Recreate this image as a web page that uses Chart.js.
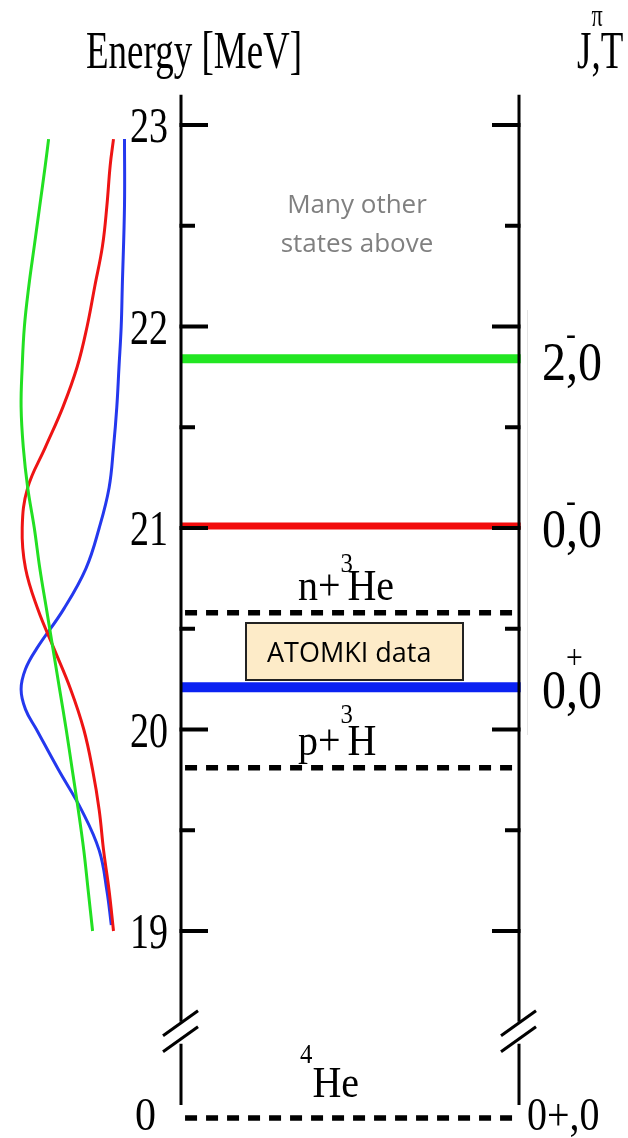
<!DOCTYPE html>
<html>
<head>
<meta charset="utf-8">
<title>4He levels</title>
<script src="https://cdn.jsdelivr.net/npm/chart.js@4.4.1/dist/chart.umd.min.js"></script>
<style>
  html, body { margin: 0; padding: 0; background: #fff; }
  canvas { display: block; }
</style>
</head>
<body>
<canvas id="levelChart" width="628" height="1138"></canvas>
<script>
// energy axis ticks (MeV)
const energyTicks = [19, 19.5, 20, 20.5, 21, 21.5, 22, 22.5, 23];
const energyTickLabels = ['19', '', '20', '', '21', '', '22', '', '23'];
const groundTickLabel = '0';

// excited states of 4He
const levelEnergies = [21.84, 21.01, 20.21];
const levelSpin = ['2', '0', '0'];
const levelParity = ['-', '-', '+'];
const levelIsospin = ['0', '0', '0'];

// thresholds + ground state (MeV)
const thresholdEnergies = [20.58, 19.81, 0];
const thresholdNames = [['n+', '3', 'He'], ['p+', '3', 'H'], ['', '4', 'He']];
const groundSpin = '0+,0';

// resonance profiles on the left (energy, relative yield)
const greenE = [22.93, 22.8, 22.6, 22.4, 22.2, 22.0, 21.8, 21.6, 21.4, 21.2, 21.0, 20.8, 20.6, 20.4, 20.2, 20.0, 19.8, 19.6, 19.4, 19.2, 19.0];
const greenY = [0.74, 0.77, 0.82, 0.87, 0.92, 0.96, 0.98, 0.99, 0.97, 0.93, 0.87, 0.82, 0.76, 0.70, 0.64, 0.58, 0.525, 0.47, 0.42, 0.38, 0.34];
const redE = [22.93, 22.8, 22.6, 22.4, 22.2, 22.0, 21.8, 21.6, 21.4, 21.2, 21.0, 20.8, 20.6, 20.4, 20.2, 20.0, 19.8, 19.6, 19.4, 19.2, 19.0];
const redY = [0.15, 0.18, 0.21, 0.25, 0.32, 0.39, 0.48, 0.61, 0.77, 0.93, 0.98, 0.95, 0.84, 0.69, 0.54, 0.42, 0.34, 0.28, 0.24, 0.19, 0.15];
const blueE = [22.93, 22.6, 22.2, 22.0, 21.8, 21.6, 21.4, 21.2, 21.0, 20.8, 20.6, 20.4, 20.3, 20.2, 20.1, 20.0, 19.8, 19.6, 19.4, 19.2, 19.03];
const blueY = [0.05, 0.05, 0.07, 0.08, 0.10, 0.12, 0.15, 0.19, 0.28, 0.40, 0.60, 0.85, 0.95, 0.99, 0.95, 0.85, 0.65, 0.44, 0.28, 0.21, 0.17];

// broken axis: the ground state is drawn just below the break
const groundAxisPos = 18.072;
const axisTopE = 23.15;
const breakE = 18.5;
function axisE(e) { return e < breakE ? groundAxisPos + e : e; }

// layout of the canvas (px)
const W = 628, H = 1138;
const ePx23 = 125, pxPerMeV = 201.5;
const leftAxisPx = 181, rightAxisPx = 519;
const yieldZeroPx = 130, yieldPxPerUnit = 110;

const levelColors = ['#22e622', '#f20c0c', '#0b22f2'];
const levelWidths = [9, 7, 10];

function pairs(es, ys) { return es.map((e, i) => ({ x: ys[i], y: e })); }

const datasets = [];
levelEnergies.forEach((e, i) => {
  datasets.push({
    xAxisID: 'x', data: [{ x: 0, y: e }, { x: 1.005, y: e }],
    borderColor: levelColors[i], borderWidth: levelWidths[i], borderCapStyle: 'butt',
    pointRadius: 0, tension: 0
  });
});
thresholdEnergies.forEach(e => {
  datasets.push({
    xAxisID: 'x', data: [{ x: 0.012, y: axisE(e) }, { x: 0.995, y: axisE(e) }],
    borderColor: '#000', borderWidth: 5.5, borderDash: [12, 9], borderCapStyle: 'butt',
    pointRadius: 0, tension: 0
  });
});
[[greenE, greenY, '#22e022'], [redE, redY, '#ee1414'], [blueE, blueY, '#2438ee']].forEach(c => {
  datasets.push({
    xAxisID: 'yield', data: pairs(c[0], c[1]),
    borderColor: c[2], borderWidth: 3, pointRadius: 0, tension: 0.4
  });
});

// serif text with the vertical stretch of the original figure
function drawParts(ctx, parts, x, y, size, stretch, align) {
  const widths = parts.map(p => {
    ctx.font = (size * (p.scale || 1)) + 'px "Liberation Serif"';
    return ctx.measureText(p.t).width;
  });
  let total = 0;
  parts.forEach((p, i) => { total += i === parts.length - 1 ? widths[i] : widths[i] * (p.adv === undefined ? 1 : p.adv); });
  let cx = align === 'right' ? x - total : align === 'center' ? x - total / 2 : x;
  ctx.textAlign = 'left';
  ctx.textBaseline = 'alphabetic';
  parts.forEach((p, i) => {
    ctx.save();
    ctx.font = (size * (p.scale || 1)) + 'px "Liberation Serif"';
    ctx.translate(cx, y - (p.dy || 0));
    ctx.scale(1, stretch);
    ctx.fillText(p.t, 0, 0);
    ctx.restore();
    cx += widths[i] * (p.adv === undefined ? 1 : p.adv);
  });
}

const schemePlugin = {
  id: 'scheme',
  afterDatasetsDraw(chart) {
    const ctx = chart.ctx;
    const ys = chart.scales.y;
    const yTop = ys.getPixelForValue(axisTopE);
    const yBreak = ys.getPixelForValue(breakE);
    const yEnd = ys.getPixelForValue(groundAxisPos) - 13;
    ctx.save();
    ctx.fillStyle = '#000';

    // faint edge of pasted panel
    ctx.strokeStyle = '#e4e4e4';
    ctx.lineWidth = 1;
    ctx.beginPath(); ctx.moveTo(527.5, 310); ctx.lineTo(527.5, 735); ctx.stroke();
    ctx.strokeStyle = '#000';

    // axis lines with break
    ctx.lineWidth = 3;
    [leftAxisPx, rightAxisPx].forEach(ax => {
      ctx.beginPath();
      ctx.moveTo(ax, yTop); ctx.lineTo(ax, yBreak - 10);
      ctx.moveTo(ax, yBreak + 12); ctx.lineTo(ax, yEnd);
      ctx.stroke();
      [-8, 8].forEach(off => {
        ctx.beginPath();
        ctx.moveTo(ax - 18, yBreak + off + 12);
        ctx.lineTo(ax + 17, yBreak + off - 13);
        ctx.stroke();
      });
    });

    // inward ticks
    ctx.lineWidth = 4;
    energyTicks.forEach((e, i) => {
      const py = ys.getPixelForValue(e);
      const len = energyTickLabels[i] ? 27 : 14;
      ctx.beginPath();
      ctx.moveTo(leftAxisPx - 1.5, py); ctx.lineTo(leftAxisPx + len, py);
      ctx.moveTo(rightAxisPx + 1.5, py); ctx.lineTo(rightAxisPx - len, py);
      ctx.stroke();
      if (energyTickLabels[i]) {
        drawParts(ctx, [{ t: energyTickLabels[i] }], 168, py + 17, 38, 1.33, 'right');
      }
    });
    const gy = ys.getPixelForValue(groundAxisPos);
    drawParts(ctx, [{ t: groundTickLabel }], 156, gy + 12, 42, 1.12, 'right');

    // headers
    drawParts(ctx, [{ t: 'Energy [MeV]' }], 86, 68, 37, 1.4, 'left');
    drawParts(ctx, [{ t: 'J' }, { t: '\u03c0', scale: 0.6, dy: 42, adv: 0 }, { t: ',T' }], 577, 68, 37, 1.4, 'left');

    // spin-parity labels
    levelEnergies.forEach((e, i) => {
      const py = ys.getPixelForValue(e);
      drawParts(ctx, [
        { t: levelSpin[i] },
        { t: levelParity[i], scale: 0.62, dy: levelParity[i] === '+' ? 40 : 35, adv: 0 },
        { t: ',' + levelIsospin[i] }
      ], 542, py + 21, 48, 1.15, 'left');
    });
    drawParts(ctx, [{ t: groundSpin }], 527, gy + 12, 40, 1.15, 'left');

    // threshold labels
    const nameBase = [600, 755, 1097];
    const supDy = [28, 32, 34];
    thresholdNames.forEach((n, i) => {
      const parts = [];
      if (n[0]) parts.push({ t: n[0] });
      parts.push({ t: n[1], scale: 0.62, dy: supDy[i], adv: i === 2 ? 1 : 0.55 });
      parts.push({ t: n[2] });
      drawParts(ctx, parts, i === 2 ? 300 : 298, nameBase[i], 40, 1.13, 'left');
    });

    // annotations
    ctx.fillStyle = '#808080';
    ctx.font = '26px "Open Sans"';
    ctx.textAlign = 'center';
    ctx.textBaseline = 'alphabetic';
    ctx.fillText('Many other', 357, 213);
    ctx.fillText('states above', 357, 252);

    ctx.fillStyle = '#fdebc8';
    ctx.fillRect(246, 623, 217, 57);
    ctx.strokeStyle = '#222';
    ctx.lineWidth = 2;
    ctx.strokeRect(246, 623, 217, 57);
    ctx.fillStyle = '#000';
    ctx.font = '27px "Open Sans"';
    ctx.textAlign = 'left';
    ctx.fillText('ATOMKI data', 267, 662);
    ctx.restore();
  }
};

const xRange = W / (rightAxisPx - leftAxisPx);
const xMin = -leftAxisPx / (rightAxisPx - leftAxisPx);
const yRange = W / yieldPxPerUnit;
const yieldMax = yieldZeroPx / yieldPxPerUnit;
const eRange = H / pxPerMeV;
const eMax = 23 + ePx23 / pxPerMeV;

new Chart(document.getElementById('levelChart'), {
  type: 'line',
  data: { datasets: datasets },
  options: {
    responsive: false,
    animation: false,
    devicePixelRatio: 1,
    layout: { padding: 0 },
    plugins: { legend: { display: false }, tooltip: { enabled: false } },
    scales: {
      x: { type: 'linear', min: xMin, max: xMin + xRange, display: false },
      yield: { type: 'linear', axis: 'x', reverse: true, min: yieldMax - yRange, max: yieldMax, display: false },
      y: { type: 'linear', min: eMax - eRange, max: eMax, display: false }
    }
  },
  plugins: [schemePlugin]
});
</script>
</body>
</html>
